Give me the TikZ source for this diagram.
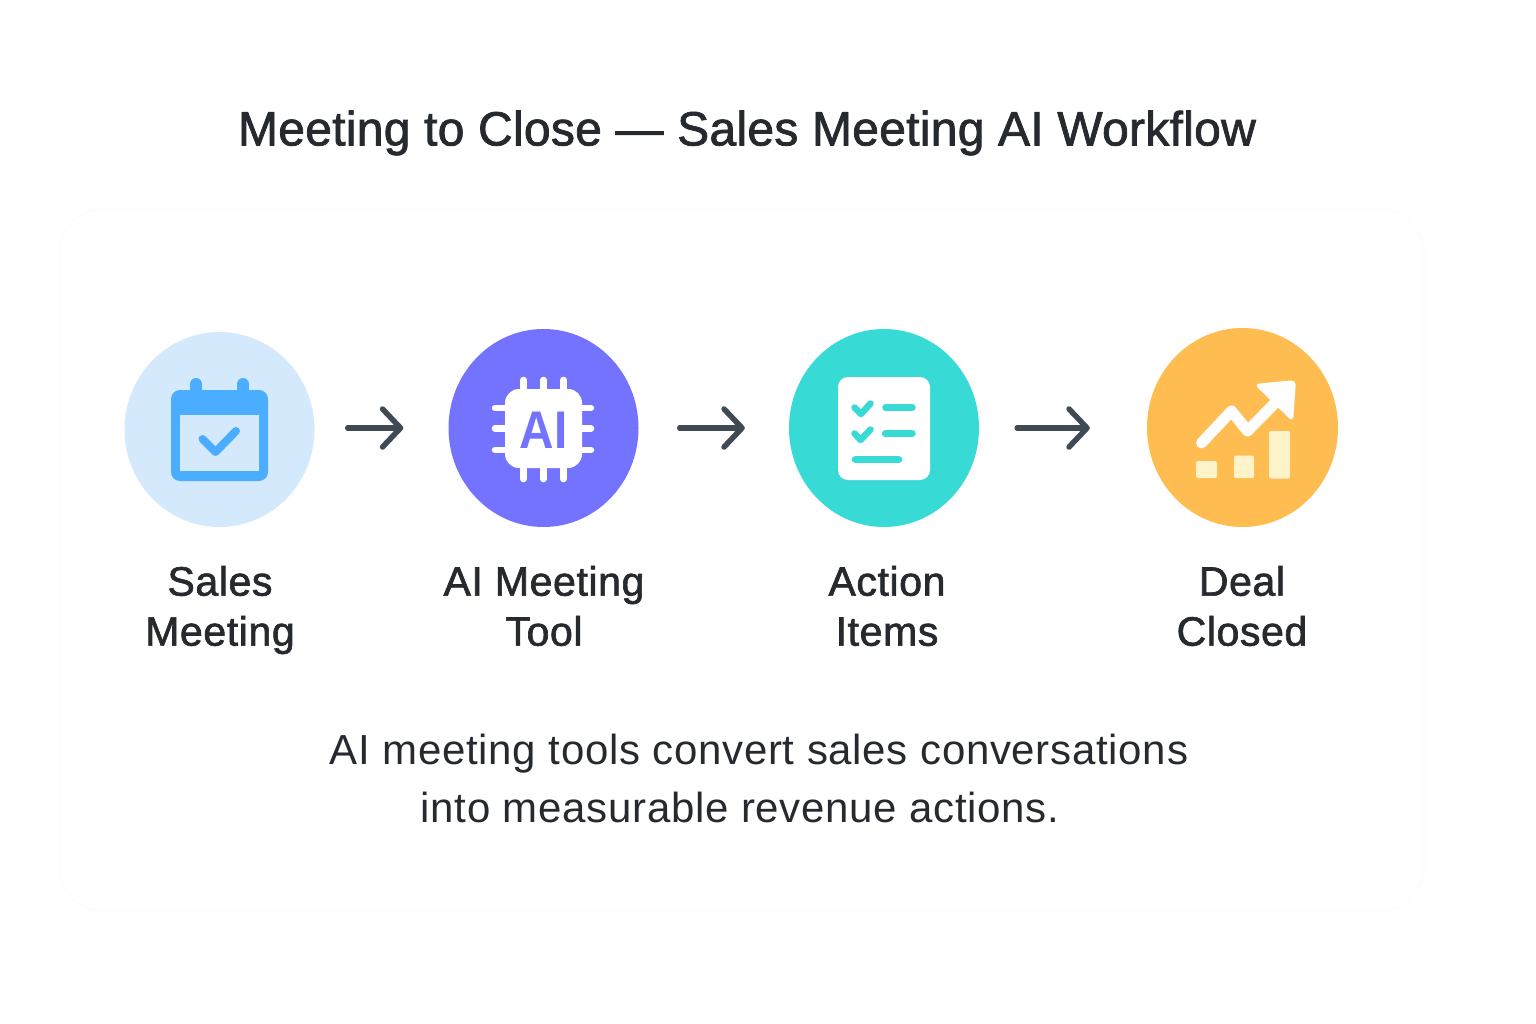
\documentclass[tikz,border=0pt]{standalone}
\usepackage{fontspec}
\setmainfont{Liberation Sans}
\newfontfamily\titlefont[FakeBold=1.6,LetterSpace=0.6]{Liberation Sans}
\newfontfamily\labelfont[FakeBold=1.6,LetterSpace=1.5]{Liberation Sans}
\newfontfamily\captionfont[LetterSpace=1.7]{Liberation Sans}
\newfontfamily\chipfont{Liberation Sans Bold}
\usetikzlibrary{arrows.meta,shapes.geometric}
\definecolor{inkdark}{HTML}{26292E}
\definecolor{arrowgrey}{HTML}{3F4A54}
\definecolor{meetingpale}{HTML}{D5E9FD}
\definecolor{meetingblue}{HTML}{4AADFF}
\definecolor{chipviolet}{HTML}{7473FF}
\definecolor{listteal}{HTML}{38DAD5}
\definecolor{dealamber}{HTML}{FFBC50}
\definecolor{dealcream}{HTML}{FFF3C9}
\tikzset{
  stepdisc/.style={ellipse, inner sep=0pt, minimum width=190pt, minimum height=198pt},
  steplabel/.style={font=\labelfont\fontsize{41pt}{50pt}\selectfont, text=inkdark, align=center, anchor=center},
  captionline/.style={font=\captionfont\fontsize{42pt}{52pt}\selectfont, text=inkdark},
  flowarrow/.style={draw=arrowgrey, line width=5.5pt, line cap=round, -{Straight Barb[length=18pt,width=38pt,round,line width=5.5pt]}},
  iconline/.style={line cap=round, line join=round}
}
\begin{document}
\begin{tikzpicture}
\useasboundingbox (0pt,0pt) rectangle (1536pt,-1024pt);
\fill[white] (0pt,0pt) rectangle (1536pt,-1024pt);
\fill[color=black!0.6, rounded corners=45pt] (58pt,-208pt) rectangle (1425pt,-912pt);
\fill[color=white, rounded corners=40pt] (61pt,-211pt) rectangle (1422pt,-909pt);

\node[font=\titlefont\fontsize{48pt}{56pt}\selectfont, text=inkdark] (title) at (747pt,-133pt) {Meeting to Close — Sales Meeting AI Workflow};

\node[stepdisc, fill=meetingpale, minimum height=195pt] (meeting) at (219.5pt,-429.5pt) {};
\node[stepdisc, fill=chipviolet] (tool) at (543.5pt,-428pt) {};
\node[stepdisc, fill=listteal] (items) at (884pt,-428pt) {};
\node[stepdisc, fill=dealamber, minimum width=191pt, minimum height=199pt] (deal) at (1242.5pt,-427.5pt) {};

\draw[flowarrow, shorten <=33pt, shorten >=45pt] (meeting.east |- tool.east) -- (tool.west);
\draw[flowarrow, shorten <=41pt, shorten >=44pt] (tool.east) -- (items.west);
\draw[flowarrow, shorten <=38pt, shorten >=57pt] (items.east) -- (deal.west |- items.east);

\draw[iconline, color=meetingblue, line width=12pt] (196pt,-384pt) -- (196pt,-394pt);
\draw[iconline, color=meetingblue, line width=12pt] (243pt,-384pt) -- (243pt,-394pt);
\fill[color=meetingblue, rounded corners=9pt] (171pt,-390pt) rectangle (268pt,-481pt);
\fill[color=meetingpale] (180pt,-415pt) rectangle (258.5pt,-471pt);
\draw[iconline, color=meetingblue, line width=8pt] (202.5pt,-439pt) -- (215.5pt,-452pt) -- (236pt,-431pt);

\foreach \pinx in {523.5,543.5,563.5}
  \draw[iconline, color=white, line width=6.5pt] (\pinx pt,-380pt) -- (\pinx pt,-479pt);
\foreach \piny in {408,428.5,450}
  \draw[iconline, color=white, line width=6.5pt] (495pt,-\piny pt) -- (591pt,-\piny pt);
\fill[color=white, rounded corners=14pt] (505pt,-389pt) rectangle (582pt,-468pt);
\node[font=\chipfont\fontsize{53pt}{53pt}\selectfont, text=chipviolet, xscale=.9, transform shape] (chiptext) at (543.5pt,-430pt) {AI};

\fill[color=white, rounded corners=10pt] (838pt,-377pt) rectangle (930pt,-480pt);
\draw[iconline, color=listteal, line width=6.5pt] (854.5pt,-407.5pt) -- (861pt,-414pt) -- (870.5pt,-403.5pt);
\draw[iconline, color=listteal, line width=6.5pt] (854.5pt,-433.5pt) -- (860.5pt,-440pt) -- (870.5pt,-429.5pt);
\draw[iconline, color=listteal, line width=7.5pt] (886pt,-407.5pt) -- (912pt,-407.5pt);
\draw[iconline, color=listteal, line width=7.5pt] (885.5pt,-433.5pt) -- (912pt,-433.5pt);
\draw[iconline, color=listteal, line width=7.5pt] (855.5pt,-459.5pt) -- (898.5pt,-459.5pt);

\fill[color=dealcream, rounded corners=2pt] (1196pt,-461pt) rectangle (1217pt,-478pt);
\fill[color=dealcream, rounded corners=2pt] (1234pt,-455.5pt) rectangle (1254pt,-478pt);
\fill[color=dealcream, rounded corners=2pt] (1269pt,-431pt) rectangle (1290pt,-478.5pt);
\draw[iconline, color=white, line width=11pt] (1201.5pt,-443pt) -- (1231.5pt,-411pt) -- (1247.5pt,-431pt) -- (1278pt,-400pt);
\fill[color=white, rounded corners=5pt] (1254pt,-384pt) -- (1296pt,-380pt) -- (1293pt,-422pt) -- cycle;

\node[steplabel] (meetinglabel) at (220pt,-610pt) {Sales\\Meeting};
\node[steplabel] (toollabel) at (544pt,-606pt) {AI Meeting\\Tool};
\node[steplabel] (itemslabel) at (887pt,-606pt) {Action\\Items};
\node[steplabel] (deallabel) at (1242pt,-606pt) {Deal\\Closed};

\node[captionline] (captionone) at (759pt,-754pt) {AI meeting tools convert sales conversations};
\node[captionline] (captiontwo) at (740pt,-807pt) {into measurable revenue actions.};
\end{tikzpicture}
\end{document}
